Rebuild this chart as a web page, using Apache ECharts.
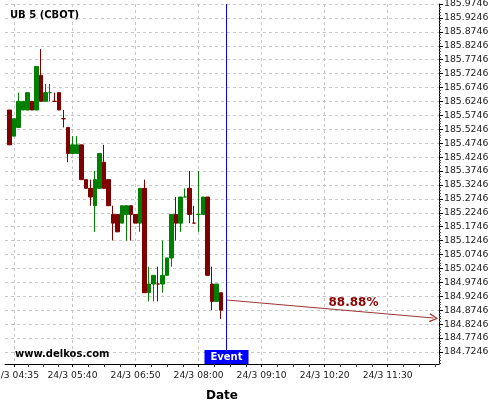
<!DOCTYPE html>
<html>
<head>
<meta charset="utf-8">
<script src="https://cdn.jsdelivr.net/npm/echarts@6/dist/echarts.min.js"></script>
<style>
  html, body { margin: 0; padding: 0; background: #fff; }
  #chart { width: 500px; height: 400px; }
</style>
</head>
<body>
<div id="chart"></div>
<script>
// 5 minute bars, 24/3 from 04:30 (prices in 32nds)
const times = [
  '04:30','04:35','04:40','04:45','04:50','04:55','05:00','05:05','05:10','05:15','05:20','05:25',
  '05:30','05:35','05:40','05:45','05:50','05:55','06:00','06:05','06:10','06:15','06:20','06:25',
  '06:30','06:35','06:40','06:45','06:50','06:55','07:00','07:05','07:10','07:15','07:20','07:25',
  '07:30','07:35','07:40','07:45','07:50','07:55','08:00','08:05','08:10','08:15','08:20','08:25',
]
const opens = [
  185.59375, 185.5, 185.53125, 185.59375, 185.59375, 185.625, 185.59375, 185.71875, 185.625, 185.65625, 185.625, 185.65625,
  185.5625, 185.53125, 185.4375, 185.4375, 185.46875, 185.34375, 185.3125, 185.25, 185.3125, 185.40625, 185.34375, 185.21875,
  185.21875, 185.1875, 185.21875, 185.25, 185.21875, 185.1875, 185.3125, 184.9375, 184.96875, 184.96875, 184.96875, 185.0,
  185.0625, 185.21875, 185.1875, 185.28125, 185.3125, 185.1875, 185.21875, 185.21875, 185.28125, 184.96875, 184.90625, 184.9375,
]
const closes = [
  185.46875, 185.5625, 185.625, 185.625, 185.65625, 185.59375, 185.75, 185.625, 185.65625, 185.65625, 185.625, 185.59375,
  185.5625, 185.4375, 185.46875, 185.46875, 185.34375, 185.3125, 185.28125, 185.34375, 185.4375, 185.3125, 185.25, 185.1875,
  185.15625, 185.25, 185.25, 185.21875, 185.1875, 185.3125, 184.9375, 184.96875, 185.0, 184.96875, 185.0, 185.0625,
  185.21875, 185.1875, 185.28125, 185.28125, 185.21875, 185.1875, 185.21875, 185.28125, 185.0, 184.90625, 184.96875, 184.875,
]
const lows = [
  185.46875, 185.5, 185.53125, 185.59375, 185.59375, 185.59375, 185.59375, 185.625, 185.625, 185.625, 185.625, 185.59375,
  185.53125, 185.40625, 185.4375, 185.4375, 185.34375, 185.3125, 185.25, 185.15625, 185.3125, 185.3125, 185.25, 185.125,
  185.15625, 185.1875, 185.125, 185.125, 185.1875, 185.15625, 184.9375, 184.90625, 184.90625, 184.90625, 184.9375, 185.0,
  185.03125, 185.125, 185.15625, 185.28125, 185.1875, 185.1875, 185.15625, 185.21875, 185.0, 184.875, 184.90625, 184.84375,
]
const highs = [
  185.59375, 185.5625, 185.65625, 185.625, 185.65625, 185.625, 185.75, 185.8125, 185.6875, 185.6875, 185.65625, 185.65625,
  185.59375, 185.53125, 185.5, 185.5, 185.46875, 185.34375, 185.34375, 185.375, 185.4375, 185.46875, 185.34375, 185.25,
  185.21875, 185.25, 185.25, 185.25, 185.21875, 185.3125, 185.34375, 185.03125, 185.0, 185.03125, 185.125, 185.0625,
  185.21875, 185.28125, 185.28125, 185.3125, 185.375, 185.25, 185.375, 185.28125, 185.28125, 185.03125, 184.96875, 184.9375,
]

// x axis works in bar index units
const xTickIdx = [1, 14, 28, 42, 56, 70, 84]
const xTickLabels = ['24/3 04:35', '24/3 05:40', '24/3 06:50', '24/3 08:00', '24/3 09:10', '24/3 10:20', '24/3 11:30']
const X_MIN = -1
const X_MAX = 95.4

const Y_MIN = 184.6815
const Y_MAX = 185.9746
const yTickFirst = 184.7246
const yTickStep = 0.05
const yTickCount = 26

// event marker + forecast arrow
const eventIdx = 48.2
const eventText = 'Event'
const eventLabelY = 184.7066
const arrowFrom = [48.2, 184.9114]
const arrowTo = [94.2, 184.8467]
const pctText = '88.88%'
const pctPos = [76.4, 184.9006]

const GREEN = '#008000'
const RED = '#800000'
const ARROW = '#8b1010'
const FONT = 'DejaVu Sans'
const GRID_LINE = { color: '#c8c8c8', width: 1, type: [3, 3] }

const r4 = v => Math.round(v * 1e4) / 1e4
const yTicks = []
for (let k = 0; k < yTickCount; k++) yTicks.push(r4(yTickFirst + k * yTickStep))
const yMinor = []
for (let m = -4; m < yTickCount * 5; m++) {
  if (m % 5 === 0) continue
  const v = r4(yTickFirst + m * 0.01)
  if (v > Y_MIN && v < Y_MAX) yMinor.push(v)
}
const xMinor = []
xTickIdx.forEach((a, i) => {
  const b = i + 1 < xTickIdx.length ? xTickIdx[i + 1] : a + 14
  for (let j = 1; j < 4; j++) {
    const v = a + (b - a) * j / 4
    if (v < X_MAX) xMinor.push(v)
  }
})

const candles = times.map((t, i) => {
  const item = { name: t, value: [i, opens[i], closes[i], lows[i], highs[i]] }
  if (opens[i] === closes[i]) {
    // doji: colour by previous close
    const c = i > 0 && closes[i - 1] <= closes[i] ? GREEN : RED
    item.itemStyle = { color: c, borderColor: c, borderColorDoji: c }
  }
  return item
})

const chart = echarts.init(document.getElementById('chart'))
chart.setOption({
  animation: false,
  backgroundColor: '#fff',
  title: [
    {
      text: 'UB 5 (CBOT)', left: 10, top: 10, padding: 0,
      textStyle: { fontFamily: FONT, fontSize: 10, fontWeight: 'bold', color: '#000' },
    },
    {
      text: 'www.delkos.com', left: 15, top: 349, padding: 0,
      textStyle: { fontFamily: FONT, fontSize: 10, fontWeight: 'bold', color: '#000' },
    },
  ],
  grid: { left: 5, right: 61, top: 4, bottom: 36, containLabel: false, outerBoundsMode: 'none' },
  xAxis: [
    {
      type: 'value', position: 'bottom', min: X_MIN, max: X_MAX,
      name: 'Date', nameLocation: 'middle', nameGap: 26,
      nameTextStyle: { fontFamily: FONT, fontSize: 12, fontWeight: 'bold', color: '#000' },
      axisLine: { show: true, onZero: false, lineStyle: { color: '#000', width: 1 } },
      axisTick: { show: true, customValues: xTickIdx, length: 3, lineStyle: { color: '#000' } },
      axisLabel: {
        customValues: xTickIdx, margin: 7,
        fontFamily: FONT, fontSize: 9.2, color: '#1a1a1a',
        formatter: v => xTickLabels[xTickIdx.indexOf(v)] || '',
      },
      splitLine: { show: true, lineStyle: GRID_LINE },
    },
    {
      type: 'value', position: 'bottom', min: X_MIN, max: X_MAX,
      axisLine: { show: false, onZero: false },
      axisTick: { show: true, customValues: xMinor, length: 3, lineStyle: { color: '#333' } },
      axisLabel: { show: false },
      splitLine: { show: false },
    },
  ],
  yAxis: [
    {
      type: 'value', position: 'right', min: Y_MIN, max: Y_MAX,
      axisLine: { show: true, onZero: false, lineStyle: { color: '#000', width: 1 } },
      axisTick: { show: true, customValues: yTicks, length: 4, lineStyle: { color: '#000' } },
      axisLabel: {
        customValues: yTicks, margin: 5,
        fontFamily: FONT, fontSize: 9.3, color: '#1a1a1a',
        formatter: v => v.toFixed(4),
      },
      splitLine: { show: true, lineStyle: GRID_LINE },
    },
    {
      type: 'value', position: 'right', min: Y_MIN, max: Y_MAX,
      axisLine: { show: false, onZero: false },
      axisTick: { show: true, customValues: yMinor, length: 2, lineStyle: { color: '#555' } },
      axisLabel: { show: false },
      splitLine: { show: false },
    },
  ],
  series: [
    {
      name: 'UB 5',
      type: 'candlestick',
      xAxisIndex: 0,
      yAxisIndex: 0,
      barWidth: 4,
      data: candles,
      itemStyle: { color: GREEN, color0: RED, borderColor: GREEN, borderColor0: RED, borderWidth: 1 },
      markLine: {
        silent: true,
        symbol: ['none', 'none'],
        label: { show: false },
        lineStyle: { color: '#0000ff', width: 1, type: 'solid' },
        data: [{ xAxis: eventIdx }],
      },
    },
    {
      name: 'notes',
      type: 'scatter',
      xAxisIndex: 0,
      yAxisIndex: 0,
      z: 5,
      symbolSize: 0,
      silent: true,
      itemStyle: { opacity: 1 },
      data: [
        {
          value: [eventIdx, eventLabelY],
          label: {
            show: true, position: 'inside', formatter: eventText,
            fontFamily: FONT, fontSize: 10, fontWeight: 'bold', color: '#fff',
            backgroundColor: '#0000ff', padding: [2, 6, 1, 6], lineHeight: 11,
          },
        },
        {
          value: pctPos,
          label: {
            show: true, position: 'inside', formatter: pctText,
            fontFamily: FONT, fontSize: 12, fontWeight: 'bold', color: '#8b0000',
          },
        },
      ],
      markLine: {
        silent: true,
        symbol: ['none', 'path://M5,0 L10,9 L8.8,10 L5,2.6 L1.2,10 L0,9 Z'],
        symbolSize: 9,
        label: { show: false },
        lineStyle: { color: ARROW, width: 1, type: 'solid', opacity: 0.85 },
        data: [[{ coord: arrowFrom }, { coord: arrowTo }]],
      },
    },
  ],
})
</script>
</body>
</html>
